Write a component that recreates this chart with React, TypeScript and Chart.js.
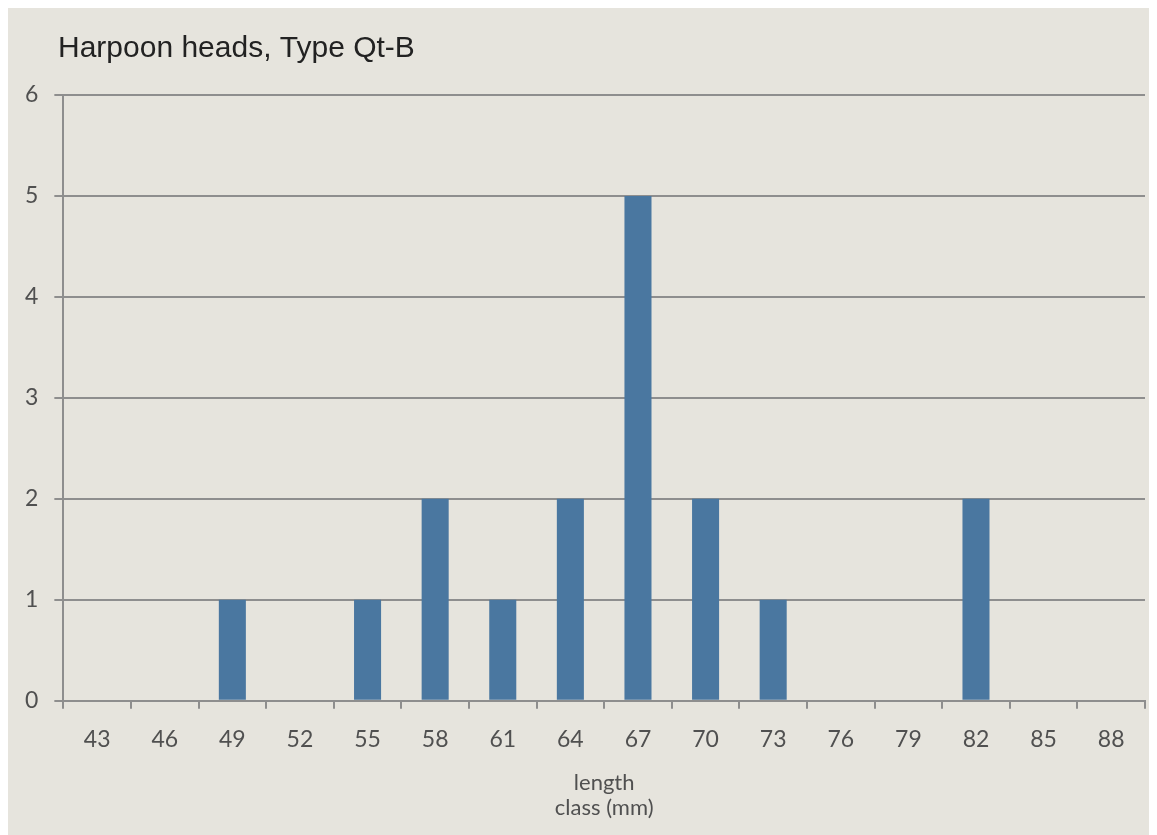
import React, { useEffect, useRef } from "react";
import { Chart, registerables } from "chart.js";

Chart.register(...registerables);

const lengthClasses = ["43", "46", "49", "52", "55", "58", "61", "64", "67", "70", "73", "76", "79", "82", "85", "88"];
const counts = [0, 0, 1, 0, 1, 2, 1, 2, 5, 2, 1, 0, 0, 2, 0, 0];
const chartTitle = "Harpoon heads, Type Qt-B";
const xAxisTitle = ["length", "class (mm)"];

const BG = "#e6e4dd";
const GRID = "#8e8e8e";
const BAR = "#4a77a0";
const LABEL = "#505050";
const FONT = "Lato, 'Open Sans', sans-serif";

const titlePlugin = {
  id: "leftTitle",
  afterDraw(chart: Chart) {
    const ctx = chart.ctx;
    ctx.save();
    ctx.font = "30px 'Liberation Sans', Arial, sans-serif";
    ctx.fillStyle = "#222222";
    ctx.textBaseline = "alphabetic";
    ctx.textAlign = "left";
    ctx.fillText(chartTitle, 50, 49);
    ctx.restore();
  },
};

export default function App() {
  const canvasRef = useRef<HTMLCanvasElement>(null);

  useEffect(() => {
    if (!canvasRef.current) return;
    const chart = new Chart(canvasRef.current, {
      type: "bar",
      data: {
        labels: lengthClasses,
        datasets: [
          {
            data: counts,
            backgroundColor: BAR,
            barPercentage: 0.4,
            categoryPercentage: 1,
          },
        ],
      },
      options: {
        animation: false,
        responsive: false,
        maintainAspectRatio: false,
        layout: { padding: { left: 1, right: 12, top: 87, bottom: 14 } },
        plugins: {
          legend: { display: false },
          tooltip: { enabled: false },
          title: { display: false },
        },
        scales: {
          x: {
            grid: {
              offset: true,
              drawOnChartArea: false,
              drawTicks: true,
              tickLength: 8,
              color: GRID,
              lineWidth: 2,
            },
            border: { display: true, color: GRID, width: 2 },
            ticks: {
              color: LABEL,
              font: { family: FONT, size: 23 },
              padding: 17,
              maxRotation: 0,
            },
            title: {
              display: true,
              text: xAxisTitle,
              color: LABEL,
              font: { family: FONT, size: 22, lineHeight: 1.15 },
              padding: { top: 0, bottom: 0 },
            },
          },
          y: {
            min: 0,
            max: 6,
            ticks: {
              stepSize: 1,
              color: LABEL,
              font: { family: FONT, size: 23 },
              padding: 16,
            },
            grid: {
              color: GRID,
              lineWidth: 2,
              tickLength: 9,
              drawTicks: true,
            },
            border: { display: true, color: GRID, width: 2 },
          },
        },
      },
      plugins: [titlePlugin],
    });
    return () => chart.destroy();
  }, []);

  return (
    <div style={{ background: BG, width: 1149, height: 827 }}>
      <canvas ref={canvasRef} width={1149} height={827} style={{ display: "block" }} />
    </div>
  );
}
